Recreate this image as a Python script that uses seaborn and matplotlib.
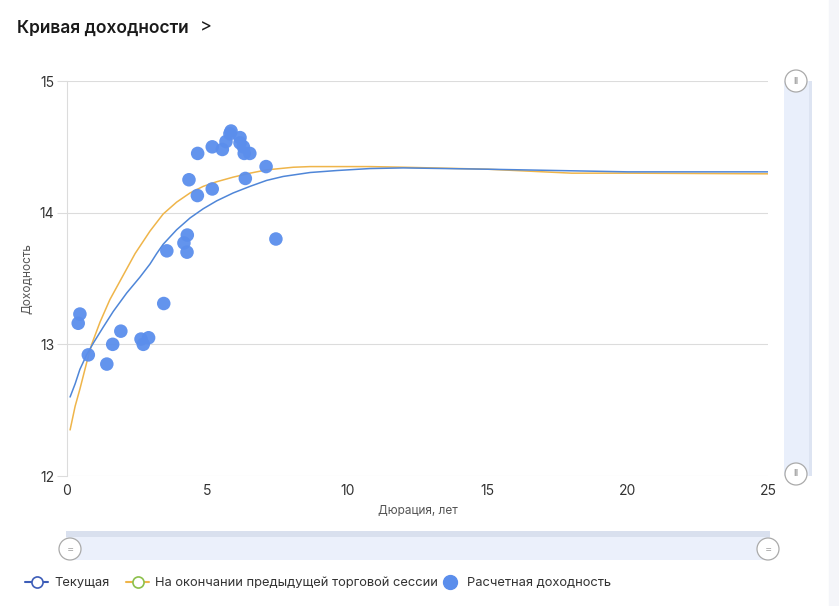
import pandas as pd
import numpy as np
import matplotlib
matplotlib.use('Agg')
import matplotlib.pyplot as plt
import seaborn as sns
from matplotlib.patches import Rectangle, Ellipse
from matplotlib.lines import Line2D

# Расчетная доходность (duration, yield)
bond_dur = [0.40, 0.46, 0.76, 1.42, 1.63, 1.92, 2.64, 2.72, 2.91, 3.45,
            3.56, 4.17, 4.29, 4.28, 4.35, 4.65, 4.66, 5.18, 5.18, 5.54,
            5.67, 5.81, 5.85, 6.17, 6.17, 6.29, 6.32, 6.52, 6.36, 7.10, 7.45]
bond_yld = [13.16, 13.23, 12.92, 12.85, 13.00, 13.10, 13.04, 13.00, 13.05, 13.31,
            13.71, 13.77, 13.83, 13.70, 14.25, 14.13, 14.45, 14.18, 14.50, 14.48,
            14.54, 14.60, 14.62, 14.57, 14.53, 14.50, 14.45, 14.45, 14.26, 14.35, 13.80]

# Текущая кривая
cur_dur = [0.11, 0.29, 0.46, 0.70, 0.94, 1.29, 1.65, 2.13, 2.60, 2.96, 3.20, 3.43,
           3.91, 4.39, 4.86, 5.34, 5.93, 6.53, 7.12, 7.71, 8.67, 9.62, 10.8, 12.0,
           15.0, 20.0, 25.0]
cur_yld = [12.60, 12.70, 12.81, 12.92, 13.01, 13.13, 13.25, 13.39, 13.51, 13.61, 13.69, 13.76,
           13.87, 13.96, 14.03, 14.09, 14.15, 14.20, 14.245, 14.275, 14.305, 14.32, 14.335, 14.34,
           14.33, 14.31, 14.31]

# На окончании предыдущей торговой сессии
prev_dur = [0.11, 0.29, 0.46, 0.70, 0.88, 1.18, 1.53, 1.89, 2.25, 2.43, 2.96, 3.43,
            3.91, 4.39, 4.86, 5.34, 5.93, 6.53, 7.12, 8.07, 8.67, 10.8, 12.0, 15.0,
            18.0, 20.0, 25.0]
prev_yld = [12.35, 12.53, 12.66, 12.86, 13.00, 13.17, 13.34, 13.48, 13.62, 13.69, 13.86, 13.99,
            14.08, 14.15, 14.20, 14.235, 14.27, 14.30, 14.325, 14.345, 14.35, 14.35, 14.345, 14.33,
            14.30, 14.30, 14.295]

W, H = 839, 606
sns.set_theme(style='white')
plt.rcParams['font.family'] = ['Inter', 'DejaVu Sans']

fig = plt.figure(figsize=(W / 100, H / 100), dpi=100)


def fx(px):
    return px / W


def fy(py):
    return 1 - py / H


ax = fig.add_axes([fx(67), fy(476), fx(768) - fx(67), fy(81) - fy(476)])

cur = pd.DataFrame({'dur': cur_dur, 'yld': cur_yld})
prev = pd.DataFrame({'dur': prev_dur, 'yld': prev_yld})
bonds = pd.DataFrame({'dur': bond_dur, 'yld': bond_yld})

sns.lineplot(data=prev, x='dur', y='yld', ax=ax, color='#efb54a', lw=1.1, sort=True)
sns.lineplot(data=cur, x='dur', y='yld', ax=ax, color='#4f86d8', lw=1.1, sort=True)
sns.scatterplot(data=bonds, x='dur', y='yld', ax=ax, color='#5b8eec', s=95,
                edgecolor='none', alpha=0.95, zorder=5)

ax.set_xlim(0, 25)
ax.set_ylim(12, 15)
ax.set_xticks([0, 5, 10, 15, 20, 25])
ax.set_yticks([12, 13, 14, 15])
ax.grid(axis='y', color='#dcdcdc', lw=0.8)
ax.set_axisbelow(True)
for s in ['top', 'right', 'bottom']:
    ax.spines[s].set_visible(False)
ax.spines['left'].set_color('#dcdcdc')
ax.spines['left'].set_linewidth(0.8)
ax.tick_params(axis='y', length=7, color='#dcdcdc', width=0.8, pad=2,
               labelsize=10, labelcolor='#333333', left=True)
ax.tick_params(axis='x', length=0, pad=6, labelsize=10, labelcolor='#333333')
ax.set_xlabel('Дюрация, лет', fontsize=8.5, color='#555555', labelpad=5)
ax.set_ylabel('Доходность', fontsize=8.5, color='#555555', labelpad=5)

# title
fig.text(fx(17), fy(28), 'Кривая доходности', fontsize=12.5, fontweight='semibold',
         color='#1a1a1a', va='center', ha='left')
fig.text(fx(200), fy(27), '>', fontsize=13, color='#1a1a1a', va='center', ha='left')

# right strip
fig.patches.append(Rectangle((fx(829), 0), fx(10), 1, transform=fig.transFigure,
                             color='#f4f5f9', zorder=0))

# vertical slider
fig.patches.append(Rectangle((fx(784), fy(476)), fx(811) - fx(784), fy(81) - fy(476),
                             transform=fig.transFigure, facecolor='#e9effb',
                             edgecolor='none', zorder=1))
fig.patches.append(Rectangle((fx(809), fy(476)), fx(3), fy(81) - fy(476),
                             transform=fig.transFigure, facecolor='#dde4f2',
                             edgecolor='none', zorder=1))
for cy in [81, 474]:
    fig.patches.append(Ellipse((fx(796), fy(cy)), 22 / W, 22 / H, transform=fig.transFigure,
                               facecolor='white', edgecolor='#aaaaaa', lw=0.9, zorder=2))
    fig.text(fx(796), fy(cy), 'II', fontsize=6.5, color='#aaaaaa', ha='center',
             va='center', fontweight='bold', zorder=3)

# horizontal slider
fig.patches.append(Rectangle((fx(66), fy(560)), fx(770) - fx(66), fy(537) - fy(560),
                             transform=fig.transFigure, facecolor='#ebf0fb',
                             edgecolor='none', zorder=1))
fig.patches.append(Rectangle((fx(66), fy(537)), fx(770) - fx(66), fy(531) - fy(537),
                             transform=fig.transFigure, facecolor='#d9e0ee',
                             edgecolor='none', zorder=1))
for cx in [70, 768]:
    fig.patches.append(Ellipse((fx(cx), fy(549)), 22 / W, 22 / H, transform=fig.transFigure,
                               facecolor='white', edgecolor='#aaaaaa', lw=0.9, zorder=2))
    fig.text(fx(cx), fy(549), '=', fontsize=8, color='#aaaaaa', ha='center',
             va='center', zorder=3)

# legend, one entry per box so the spacing follows the picture
handles = [
    Line2D([], [], color='#3d5db8', lw=1.5, marker='o', markersize=8,
           markerfacecolor='white', markeredgecolor='#3d5db8', markeredgewidth=1.2),
    Line2D([], [], color='#efb54a', lw=1.5, marker='o', markersize=8,
           markerfacecolor='white', markeredgecolor='#8cc04b', markeredgewidth=1.2),
    Line2D([], [], lw=0, marker='o', markersize=10, markerfacecolor='#5b8eec',
           markeredgecolor='#5b8eec'),
]
labels = ['Текущая', 'На окончании предыдущей торговой сессии', 'Расчетная доходность']
for h, lab, x0 in zip(handles, labels, [25, 126, 438]):
    fig.legend([h], [lab], loc='center left', bbox_to_anchor=(fx(x0), fy(583)),
               frameon=False, fontsize=9.3, handlelength=1.8, handletextpad=0.45,
               borderaxespad=0, borderpad=0, labelcolor='#333333')

fig.savefig('out.png', dpi=100)
